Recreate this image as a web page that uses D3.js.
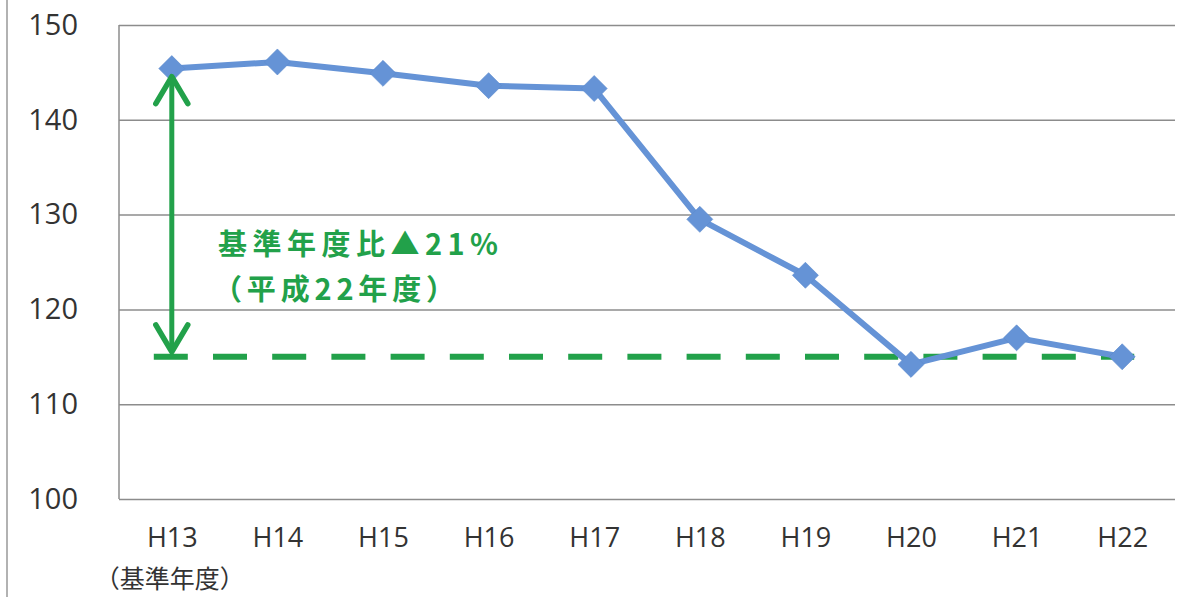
<!DOCTYPE html>
<html>
<head>
<meta charset="utf-8">
<script src="https://cdn.jsdelivr.net/npm/d3@7"></script>
<style>
  body { margin: 0; background: #fff; }
  svg { display: block; }
</style>
</head>
<body>
<div id="wrapper"></div>
<script>
const years = ["H13", "H14", "H15", "H16", "H17", "H18", "H19", "H20", "H21", "H22"];
const values = [145.4, 146.1, 144.9, 143.6, 143.3, 129.5, 123.6, 114.2, 117.0, 115.0];
const yTicks = [100, 110, 120, 130, 140, 150];
const baseLine = 115.0;
const noteLines = ["基準年度比▲21%", "（平成22年度）"];
const baseNote = "（基準年度）";

const dimensions = {
    width: 1203,
    height: 597,
    margin: { top: 25, right: 28, bottom: 98, left: 119 }
};
dimensions.boundedWidth = dimensions.width - dimensions.margin.left - dimensions.margin.right;
dimensions.boundedHeight = dimensions.height - dimensions.margin.top - dimensions.margin.bottom;

const font = "'Open Sans', 'Noto Sans CJK JP', sans-serif";
const cjk = "'Noto Sans CJK JP', sans-serif";
const green = "#22a14a";
const blue = "#6593d6";

const svg = d3.select("#wrapper")
    .append("svg")
    .attr("width", dimensions.width)
    .attr("height", dimensions.height);

// outer frame line at the left edge
svg.append("line")
    .attr("x1", 7).attr("x2", 7)
    .attr("y1", 0).attr("y2", dimensions.height)
    .attr("stroke", "#999").attr("stroke-width", 1.5);

const bounds = svg.append("g")
    .attr("transform", `translate(${dimensions.margin.left},${dimensions.margin.top})`);

const xScale = d3.scalePoint()
    .domain(years)
    .range([0, dimensions.boundedWidth])
    .padding(0.5);

const yScale = d3.scaleLinear()
    .domain([100, 150])
    .range([dimensions.boundedHeight, 0]);

// gridlines
bounds.append("g")
    .call(d3.axisLeft(yScale).tickValues(yTicks).tickSize(-dimensions.boundedWidth).tickFormat(""))
    .call(g => g.select(".domain").remove())
    .call(g => g.selectAll("line").attr("stroke", "#8c8c8c").attr("stroke-width", 1.5));

// left axis line
bounds.append("line")
    .attr("x1", 0).attr("x2", 0)
    .attr("y1", 0).attr("y2", dimensions.boundedHeight)
    .attr("stroke", "#8c8c8c").attr("stroke-width", 1.5);

// y tick labels
bounds.append("g")
    .call(d3.axisLeft(yScale).tickValues(yTicks).tickSize(0).tickPadding(41))
    .call(g => g.select(".domain").remove())
    .call(g => g.selectAll("text")
        .attr("font-family", font).attr("font-size", 29).attr("fill", "#333"));

// x tick labels
bounds.append("g")
    .attr("transform", `translate(0,${dimensions.boundedHeight})`)
    .call(d3.axisBottom(xScale).tickSize(0).tickPadding(29))
    .call(g => g.select(".domain").remove())
    .call(g => g.selectAll("text")
        .attr("font-family", font).attr("font-size", 27).attr("fill", "#333"));

bounds.append("text")
    .attr("x", xScale("H13") - 2)
    .attr("y", dimensions.boundedHeight + 89)
    .attr("text-anchor", "middle")
    .attr("font-family", cjk).attr("font-size", 25).attr("fill", "#333")
    .text(baseNote);

// dashed base line
bounds.append("line")
    .attr("x1", xScale("H13") - 18)
    .attr("x2", xScale("H22") + 12)
    .attr("y1", yScale(baseLine))
    .attr("y2", yScale(baseLine))
    .attr("stroke", green)
    .attr("stroke-width", 6)
    .attr("stroke-dasharray", "34 25.2");

// data line
const line = d3.line()
    .x((d, i) => xScale(years[i]))
    .y(d => yScale(d));

bounds.append("path")
    .datum(values)
    .attr("d", line)
    .attr("fill", "none")
    .attr("stroke", blue)
    .attr("stroke-width", 6)
    .attr("stroke-linejoin", "round");

bounds.selectAll(".marker")
    .data(values)
    .join("path")
    .attr("class", "marker")
    .attr("d", d3.symbol(d3.symbolDiamond2, 300))
    .attr("transform", (d, i) => `translate(${xScale(years[i])},${yScale(d)}) scale(1.2)`)
    .attr("fill", blue)
    .attr("stroke", "#5b89cc")
    .attr("stroke-width", 0.5);

// double arrow
const ax = xScale("H13");
const yTop = yScale(values[0]) + 6;
const yBot = yScale(baseLine) - 3;
bounds.append("line")
    .attr("x1", ax).attr("x2", ax)
    .attr("y1", yTop + 2).attr("y2", yBot - 2)
    .attr("stroke", green).attr("stroke-width", 5);
bounds.append("path")
    .attr("d", `M${ax - 16},${yTop + 29} L${ax},${yTop + 2} L${ax + 16},${yTop + 29}`)
    .attr("fill", "none").attr("stroke", green).attr("stroke-width", 5.5)
    .attr("stroke-linecap", "round").attr("stroke-linejoin", "round");
bounds.append("path")
    .attr("d", `M${ax - 16},${yBot - 29} L${ax},${yBot - 2} L${ax + 16},${yBot - 29}`)
    .attr("fill", "none").attr("stroke", green).attr("stroke-width", 5.5)
    .attr("stroke-linecap", "round").attr("stroke-linejoin", "round");

// annotation
const noteLength = [280, 242];
bounds.selectAll(".note")
    .data(noteLines)
    .join("text")
    .attr("class", "note")
    .attr("x", (d, i) => i === 0 ? 99 : 94)
    .attr("y", (d, i) => yScale(130) + 40 + i * 45)
    .attr("font-family", cjk)
    .attr("font-size", 29)
    .attr("font-weight", "bold")
    .attr("textLength", (d, i) => noteLength[i])
    .attr("lengthAdjust", "spacing")
    .attr("fill", green)
    .text(d => d);
</script>
</body>
</html>
